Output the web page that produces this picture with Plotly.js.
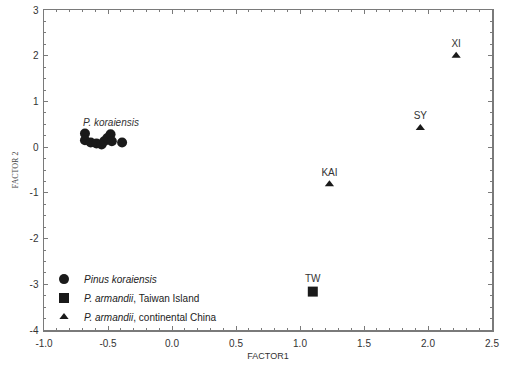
<!DOCTYPE html>
<html>
<head>
<meta charset="utf-8">
<script src="https://cdn.plot.ly/plotly-3.0.1.min.js"></script>
<style>html,body{margin:0;padding:0;background:#fff;}#chart{width:508px;height:369px;}</style>
</head>
<body>
<div id="chart"></div>
<script>
// P. koraiensis populations
const korX = [-0.68, -0.68, -0.635, -0.59, -0.55, -0.53, -0.505, -0.48, -0.47, -0.39];
const korY = [0.30, 0.15, 0.10, 0.08, 0.06, 0.13, 0.20, 0.28, 0.13, 0.10];
// P. armandii, Taiwan Island
const twX = [1.10];
const twY = [-3.16];
const twLabels = ['TW'];
// P. armandii, continental China
const conX = [1.23, 1.94, 2.22];
const conY = [-0.81, 0.42, 2.00];
const conLabels = ['KAI', 'SY', 'XI'];
const groupLabel = {text: 'P. koraiensis', x: -0.48, y: 0.54};
// tick labels
const xTickVals = [-1.0, -0.5, 0.0, 0.5, 1.0, 1.5, 2.0, 2.5];
const xTickText = ['-1.0', '-0.5', '0.0', '0.5', '1.0', '1.5', '2.0', '2.5'];
const yTickVals = [-4, -3, -2, -1, 0, 1, 2, 3];
const yTickText = ['-4', '-3', '-2', '-1', '0', '1', '2', '3'];

const dark = '#1a1a1a';
const axisCol = '#7a7a7a';
const lblFont = {family: 'Liberation Sans, Arial, sans-serif', size: 10, color: '#333'};

const traces = [
  {type: 'scatter', mode: 'markers', x: korX, y: korY, name: '<i>Pinus koraiensis</i>',
   marker: {symbol: 'circle', size: 10, color: dark}},
  {type: 'scatter', mode: 'markers+text', x: twX, y: twY, text: twLabels, textposition: 'top center',
   textfont: lblFont, name: '<i>P. armandii</i>, Taiwan Island',
   marker: {symbol: 'square', size: 10, color: dark}},
  {type: 'scatter', mode: 'markers+text', x: conX, y: conY, text: conLabels, textposition: 'top center',
   textfont: lblFont, name: '<i>P. armandii</i>, continental China',
   marker: {symbol: 'triangle-up', size: 8, color: dark}}
];

const axBase = {
  showgrid: false, zeroline: false, showline: true, linecolor: axisCol, linewidth: 1.5,
  mirror: 'ticks', ticks: 'inside', ticklen: 4, tickwidth: 1, tickcolor: axisCol,
  tickmode: 'array',
  tickfont: {family: 'Liberation Sans, Arial, sans-serif', size: 10, color: '#333'}
};

const layout = {
  width: 508, height: 369,
  margin: {l: 44, r: 16, t: 10, b: 39},
  paper_bgcolor: '#fff', plot_bgcolor: '#fff',
  showlegend: true,
  legend: {x: 0.0, y: -0.005, xanchor: 'left', yanchor: 'bottom', bgcolor: 'rgba(0,0,0,0)',
           font: {family: 'Liberation Sans, Arial, sans-serif', size: 10, color: '#222'},
           tracegroupgap: 0},
  xaxis: Object.assign({}, axBase, {
    range: [-1, 2.5], tickvals: xTickVals, ticktext: xTickText, ticklabelstandoff: 3,
    minor: {dtick: 0.1, ticks: 'inside', ticklen: 2, tickcolor: axisCol},
    title: {text: 'FACTOR1', standoff: 5, font: {family: 'Liberation Sans, Arial, sans-serif', size: 9, color: '#333'}}
  }),
  yaxis: Object.assign({}, axBase, {
    range: [-4, 3], tickvals: yTickVals, ticktext: yTickText, ticklabelstandoff: 2,
    minor: {dtick: 0.25, ticks: 'inside', ticklen: 2, tickcolor: axisCol},
    title: {text: 'FACTOR 2', standoff: 10, font: {family: 'Liberation Serif, Times New Roman, serif', size: 8, color: '#444'}}
  }),
  annotations: [
    {x: groupLabel.x, y: groupLabel.y, xref: 'x', yref: 'y', text: '<i>' + groupLabel.text + '</i>',
     showarrow: false, font: {family: 'Liberation Sans, Arial, sans-serif', size: 10, color: '#333'}}
  ]
};

Plotly.newPlot('chart', traces, layout, {displayModeBar: false, staticPlot: true});
</script>
</body>
</html>
